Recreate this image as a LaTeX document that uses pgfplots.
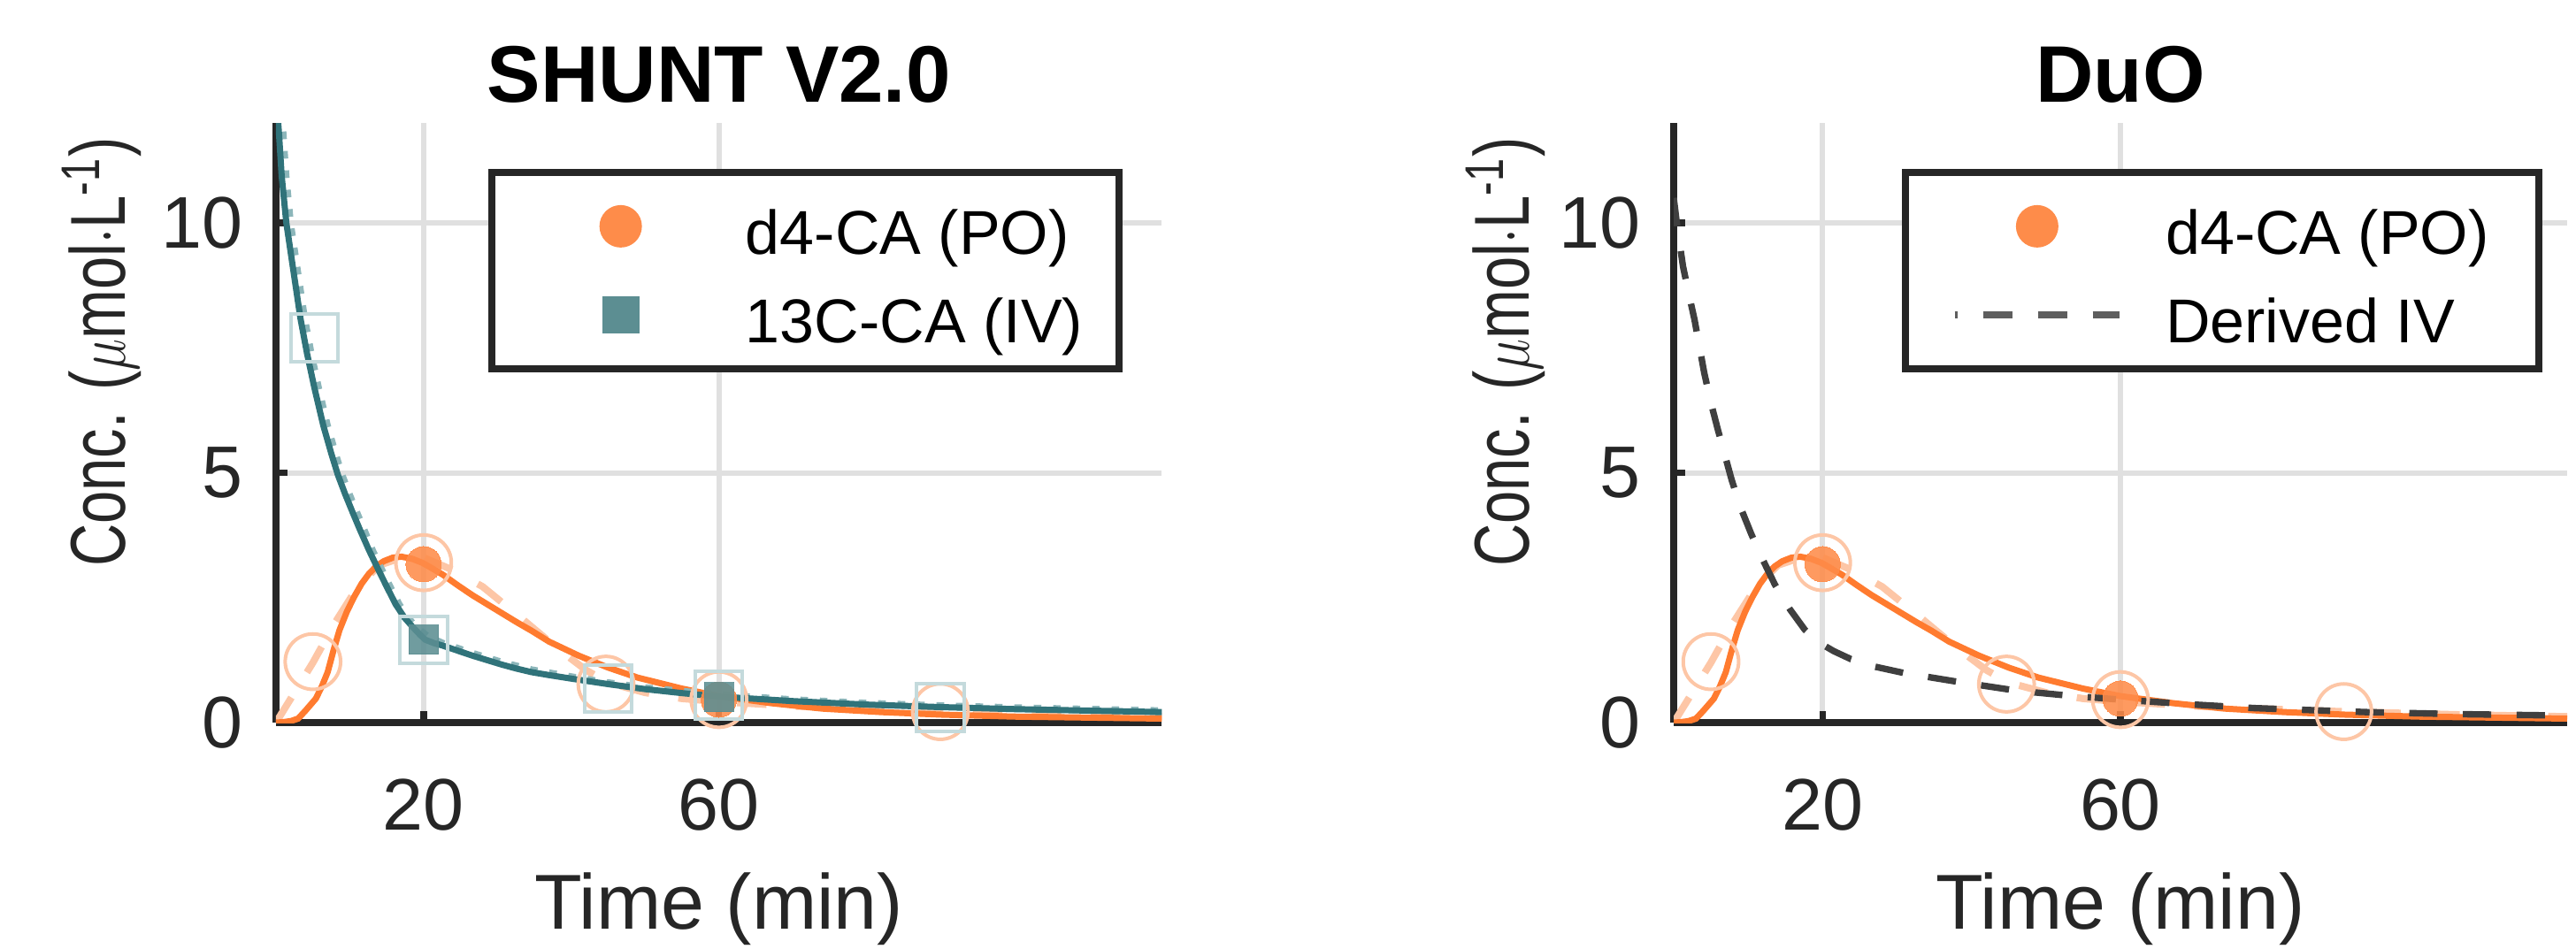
\documentclass[border=0pt]{standalone}
\usepackage{fontspec}
\setmainfont{Liberation Sans}
\usepackage{graphicx}
\usepackage{pgfplots}
\pgfplotsset{compat=1.18}

\definecolor{orL}{HTML}{FF7B2F}
\definecolor{orM}{HTML}{FE8C4A}
\definecolor{orLt}{HTML}{FDC6A6}
\definecolor{tlL}{HTML}{30737A}
\definecolor{tlM}{HTML}{5C8E92}
\definecolor{tlLt}{HTML}{C4DADC}
\definecolor{tlDot}{HTML}{8CB6BA}
\definecolor{axc}{HTML}{262626}
\definecolor{grd}{HTML}{E0E0E0}
\definecolor{dgr}{HTML}{3F3F3F}
\definecolor{dgrL}{HTML}{5E5E5E}

\pgfplotsset{
  myax/.style={
    scale only axis, height=101.7pt,
    xmin=0, xmax=120, ymin=0, ymax=12,
    xtick={20,60}, ytick={0,5,10},
    axis lines=left, axis line style={-, draw=axc, line width=1.1pt},
    tick align=inside, major tick length=2pt,
    tick style={draw=axc, line width=1.1pt},
    grid=major, major grid style={draw=grd, line width=0.9pt},
    /pgf/number format/assume math mode=true,
    tick label style={font=\fontsize{12.4}{14}\selectfont, text=axc},
    xticklabel style={anchor=north, inner sep=0pt, yshift=-9.4pt},
    yticklabel style={anchor=east, inner sep=0pt, xshift=-5.5pt},
    every axis x label/.style={at={(axis description cs:0.5,-0.344)}, anchor=base,
      font=\fontsize{13.2}{15}\selectfont, text=axc},
    every axis title/.style={at={(axis description cs:0.5,1.0354)}, anchor=base,
      font=\bfseries\fontsize{13.6}{16}\selectfont},
    legend cell align=left,
    legend style={at={(axis description cs:0.24,0.923)}, anchor=north west,
      draw=axc, line width=1.2pt, fill=white,
      inner xsep=7.8pt, inner ysep=3.2pt, row sep=3.2pt, column sep=7.2pt,
      font=\fontsize{10.5}{12}\selectfont,
      nodes={inner sep=0pt, text height=10.6pt, text depth=1.2pt, text=black},
      cells={anchor=west}},
  },
  circimg/.style={legend image code/.code={\path[draw=none,fill=none] (0pt,0pt) -- (28pt,0pt);
      \path[draw=none,fill=orM] (14pt,0pt) circle[radius=3.6pt];}},
  sqimg/.style={legend image code/.code={\path[draw=none,fill=none] (0pt,0pt) -- (28pt,0pt);
      \path[draw=none,fill=tlM] (10.85pt,-3.15pt) rectangle (17.15pt,3.15pt);}},
  dashimg/.style={legend image code/.code={\path[draw=dgrL, fill=none, line width=1.2pt,
      dash pattern=on 5pt off 4.3pt, dash phase=4.5pt] (0pt,0pt) -- (28pt,0pt);}},
  lightdash/.style={forget plot, orLt, line width=1.2pt, dash pattern=on 5pt off 5pt},
  opencirc/.style={forget plot, only marks, mark=o, mark size=4.7pt,
      mark options={draw=orLt, line width=0.6pt}},
  opensq/.style={forget plot, only marks, mark=square, mark size=4pt,
      mark options={draw=tlLt, line width=0.6pt}},
  fillcirc/.style={forget plot, only marks, mark=*, mark size=3pt,
      mark options={fill=orM, draw=orM, line width=0pt, opacity=0.88}},
  fillsq/.style={forget plot, only marks, mark=square*, mark size=2.5pt,
      mark options={fill=tlM, draw=tlM, line width=0pt, opacity=0.88}},
  orline/.style={forget plot, orL, line width=1.05pt},
}

\begin{document}
\begin{tikzpicture}
\useasboundingbox (-46.8pt,-38.25pt) rectangle (390pt,122.55pt);

% ---------------- Left: SHUNT V2.0 ----------------
\begin{axis}[myax, width=150.2pt, at={(0pt,0pt)}, anchor=south west,
  title={SHUNT V2.0}, xlabel={Time (min)},
  ylabel={\scalebox{0.76}[1]{Conc. ($\mu$mol$\cdot$L\textsuperscript{-1})}},
  every axis y label/.style={at={(axis description cs:-0.1698,0.618)}, rotate=90,
    anchor=base, font=\fontsize{13.2}{15}\selectfont, text=axc},
]
\addlegendimage{circimg}
\addlegendentry{\makebox[55.5pt][l]{d4-CA (PO)}}
\addlegendimage{sqimg}
\addlegendentry{\makebox[55.5pt][l]{13C-CA (IV)}}

% light dashed PO trace
\addplot[lightdash] coordinates {
(0,0) (5,1.2) (8,2.0) (11,2.7) (14,3.15) (17,3.3) (20,3.3) (24,3.05) (28,2.72)
(33.4,2.07) (38,1.5) (42,1.05) (45,0.8) (50,0.6) (55,0.48) (60,0.42) (70,0.33)
(80,0.27) (90,0.22) (105,0.16) (120,0.12)};
\addplot[opencirc] coordinates {(5,1.22) (20,3.2) (44.7,0.77) (60,0.46) (90,0.22)};
\addplot[opensq] coordinates {(5.2,7.7) (20,1.65) (45,0.68) (60,0.55) (90,0.3)};

% orange fitted curve
\addplot[orline] coordinates {
(0,0) (1,0.01) (2,0.03) (3,0.08) (4,0.24) (5.4,0.48) (6.2,0.72) (7,1.01) (7.8,1.45)
(8.6,1.85) (9.6,2.22) (10.6,2.52) (11.6,2.78) (12.6,2.98) (13.6,3.13) (14.6,3.23)
(15.8,3.3) (17,3.32) (18.4,3.28) (19.8,3.2) (21,3.1) (22.6,2.96) (24.6,2.75)
(26.6,2.55) (28.6,2.37) (30.6,2.19) (32.6,2.01) (34.6,1.84) (37,1.62) (41,1.34)
(45,1.1) (49,0.9) (55,0.68) (60,0.53) (67,0.39) (74,0.28) (82,0.21) (90,0.16)
(100,0.12) (110,0.1) (120,0.08)};

% teal dotted fit
\addplot[forget plot, tlDot, line width=1.3pt, dotted] coordinates {
(0.3,12.6) (0.9,11.8) (1.3,10.94) (1.9,10.0) (3.0,8.9) (3.8,8.1) (4.7,7.39)
(5.7,6.7) (6.9,5.95) (8.0,5.38) (8.9,4.95) (9.9,4.56) (10.9,4.2) (11.9,3.85)
(13.0,3.45) (14.2,3.08) (15.4,2.72) (16.6,2.37) (17.8,2.1) (19,1.9) (20.5,1.72)
(22.6,1.58) (26.6,1.38) (30.6,1.2) (34.6,1.05) (40,0.91) (45,0.79) (50,0.69)
(60,0.55) (70,0.45) (80,0.38) (90,0.33) (100,0.29) (110,0.26) (120,0.23)};
% teal fitted curve
\addplot[forget plot, tlL, line width=1.05pt] coordinates {
(0,12.6) (0.4,11.8) (0.77,10.94) (1.4,10.0) (2.5,8.9) (3.3,8.1) (4.2,7.39)
(5.2,6.7) (6.4,5.95) (7.5,5.38) (8.4,4.95) (9.4,4.56) (10.4,4.2) (11.4,3.85)
(12.6,3.45) (13.8,3.08) (15,2.72) (16.2,2.37) (17.4,2.1) (18.6,1.9) (19.5,1.76)
(20.2,1.66) (21.4,1.59) (22.6,1.54) (24.6,1.44) (26.6,1.34) (28.6,1.25)
(30.6,1.16) (32.6,1.08) (34.6,1.01) (37,0.95) (40,0.88) (45,0.77) (50,0.67)
(55,0.59) (60,0.52) (70,0.43) (80,0.36) (90,0.31) (100,0.27) (110,0.24) (120,0.21)};

\addplot[fillcirc] coordinates {(20,3.17) (60,0.46)};
\addplot[fillsq] coordinates {(20,1.66) (60,0.51)};
\end{axis}

% ---------------- Right: DuO ----------------
\begin{axis}[myax, width=151.5pt, at={(237pt,0pt)}, anchor=south west,
  title={DuO}, xlabel={Time (min)},
  ylabel={\scalebox{0.76}[1]{Conc. ($\mu$mol$\cdot$L\textsuperscript{-1})}},
  every axis y label/.style={at={(axis description cs:-0.1617,0.618)}, rotate=90,
    anchor=base, font=\fontsize{13.2}{15}\selectfont, text=axc},
  legend style={at={(axis description cs:0.255,0.923)}},
]
\addlegendimage{circimg}
\addlegendentry{\makebox[55.5pt][l]{d4-CA (PO)}}
\addlegendimage{dashimg}
\addlegendentry{\makebox[55.5pt][l]{Derived IV}}

\addplot[lightdash] coordinates {
(0,0) (5,1.2) (8,2.0) (11,2.7) (14,3.15) (17,3.3) (20,3.3) (24,3.05) (28,2.72)
(33.4,2.07) (38,1.5) (42,1.05) (45,0.8) (50,0.6) (55,0.48) (60,0.42) (70,0.33)
(80,0.27) (90,0.22) (105,0.16) (120,0.12)};
\addplot[opencirc] coordinates {(5,1.22) (20,3.2) (44.7,0.77) (60,0.46) (90,0.22)};

\addplot[orline] coordinates {
(0,0) (1,0.01) (2,0.03) (3,0.08) (4,0.24) (5.4,0.48) (6.2,0.72) (7,1.01) (7.8,1.45)
(8.6,1.85) (9.6,2.22) (10.6,2.52) (11.6,2.78) (12.6,2.98) (13.6,3.13) (14.6,3.23)
(15.8,3.3) (17,3.32) (18.4,3.28) (19.8,3.2) (21,3.1) (22.6,2.96) (24.6,2.75)
(26.6,2.55) (28.6,2.37) (30.6,2.19) (32.6,2.01) (34.6,1.84) (37,1.62) (41,1.34)
(45,1.1) (49,0.9) (55,0.68) (60,0.53) (67,0.39) (74,0.28) (82,0.21) (90,0.16)
(100,0.12) (110,0.1) (120,0.08)};

\addplot[forget plot, dgr, line width=1.1pt, dash pattern=on 4.8pt off 4.3pt] coordinates {
(0,10.5) (0.5,9.9) (1.25,9.13) (2,8.6) (2.8,8.06) (4.1,7.0) (5,6.4) (5.9,5.88)
(7.8,4.85) (9,4.3) (10.4,3.78) (12,3.25) (13.6,2.76) (15.6,2.27) (17.6,1.86)
(19,1.66) (20,1.56) (21.5,1.43) (23.8,1.27) (27,1.12) (31,0.99) (38,0.82)
(46,0.64) (53,0.54) (60,0.46) (70,0.36) (78,0.29) (93,0.21) (105,0.17) (120,0.14)};

\addplot[fillcirc] coordinates {(20,3.17) (60,0.48)};
\end{axis}
\end{tikzpicture}
\end{document}
